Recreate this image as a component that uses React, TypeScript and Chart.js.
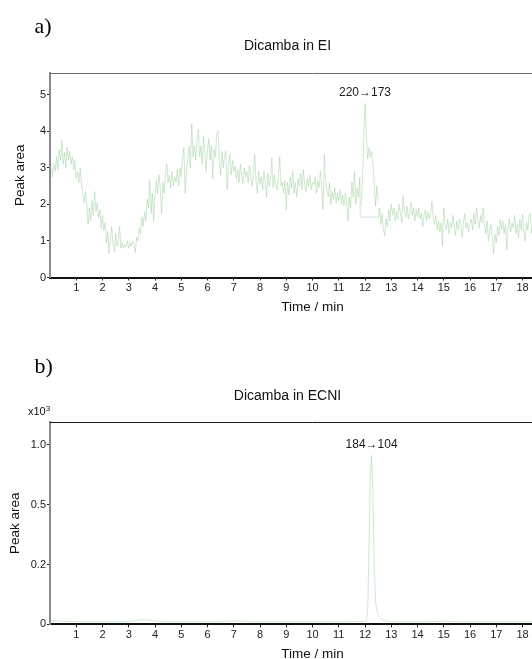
import React, { useEffect, useRef } from "react";
import { Chart, registerables } from "chart.js";

Chart.register(...registerables);

const FONT = "'Liberation Sans', Arial, Helvetica, sans-serif";
const TRACE_COLOR = "rgba(140, 200, 140, 0.42)";

// ---------- shared axis ----------
const X_TITLE = "Time / min";
const Y_TITLE = "Peak area";
const X_MIN = 0;
const X_MAX = 20;
const X_TICKS = [1, 2, 3, 4, 5, 6, 7, 8, 9, 10, 11, 12, 13, 14, 15, 16, 17, 18, 19];

// ---------- panel a : Dicamba in EI ----------
const EI_PANEL = "a)";
const EI_TITLE = "Dicamba in EI";
const EI_TRANSITION = "220\u2192173";
const EI_Y_MAX = 5.59;
const EI_Y_TICKS = [0, 1, 2, 3, 4, 5];
const EI_Y_LABELS = ["0", "1", "2", "3", "4", "5"];

const EI_START = 0.05;
const EI_STEP = 0.05;
const eiTraceBefore = [
  3.0, 2.75, 3.1, 2.9, 3.3, 2.95, 3.5, 3.2, 3.75, 3.1, 3.4, 3.0, 3.55, 3.2, 3.45, 3.1, 3.3, 2.95, 3.2, 2.7,
  2.9, 2.6, 3.0, 2.55, 2.3, 2.05, 2.35, 2.0, 1.45, 1.9, 1.55, 2.1, 1.7, 2.35, 1.8, 2.05, 1.65, 1.85, 1.35, 1.7,
  1.3, 1.5, 0.95, 1.25, 0.65, 1.1, 1.4, 0.9, 0.7, 1.2, 0.85, 1.0, 1.4, 0.8, 0.95, 0.8, 0.9, 0.85, 1.0, 0.8,
  0.95, 0.85, 1.0, 0.9, 0.68, 1.1, 1.0, 1.35, 1.2, 1.65, 1.4, 1.8, 1.55, 2.15, 1.9, 2.65, 1.75, 2.3, 1.55, 2.2,
  2.65, 2.3, 2.8, 2.45, 1.75, 2.6, 2.3, 2.85, 3.1, 2.6, 2.8, 2.45, 2.9, 2.5, 2.75, 2.6, 2.95, 2.5, 3.0, 2.75,
  3.2, 3.55, 2.3, 3.0, 3.2, 3.6, 3.0, 4.2, 3.3, 3.6, 3.2, 3.75, 4.05, 3.3, 3.6, 3.1, 3.85, 3.4, 2.9, 3.5,
  3.8, 3.2, 3.6, 2.7, 3.5, 3.3, 3.9, 4.0, 3.2, 2.8, 3.45, 3.0, 3.3, 3.45, 2.4, 3.1, 3.35, 2.8, 3.2, 2.9,
  3.05, 2.7, 2.95, 2.6, 3.1, 2.8, 2.55, 3.0, 2.75, 2.9, 2.6, 3.05, 2.7, 2.5, 2.85, 3.35, 2.65, 2.3, 2.9, 2.55,
  2.75, 2.4, 2.9, 2.6, 2.2, 2.85, 2.5, 2.7, 3.27, 2.45, 2.8, 2.55, 2.4, 2.75, 3.3, 2.5, 2.6, 2.3, 2.65, 1.85,
  2.6, 2.25, 2.75, 2.45, 2.9, 2.3, 2.6, 2.2, 2.7, 2.5, 2.85, 2.4, 2.95, 2.55, 2.35, 2.7, 2.5, 2.8, 2.4, 2.6,
  2.55, 2.75, 2.3, 2.65, 2.45, 2.9, 2.5, 1.85, 3.35, 2.7, 2.4, 2.2, 2.6, 2.0, 2.35, 2.15, 2.45, 2.05, 2.3, 2.1,
  2.4, 2.0, 2.25, 1.95, 2.3, 2.1, 1.55, 2.2, 1.9, 2.6, 2.2, 2.9, 2.0, 2.45, 2.2, 2.73,
];
const EI_GAP_FROM = 11.82;
const EI_GAP_TO = 12.52;
const EI_GAP_LEVEL = 1.65;
const EI_PEAK_START = 11.85;
const eiPeak = [1.95, 2.6, 3.7, 4.76, 3.9, 3.25, 3.55, 3.3, 3.45, 3.1, 2.55, 1.95, 2.5, 2.1];
const EI_AFTER_START = 12.55;
const eiTraceAfter = [
  1.9, 1.45, 1.75, 1.3, 1.15, 1.6, 1.4, 1.85, 1.55, 2.0,
  1.7, 1.9, 1.55, 1.8, 1.6, 2.0, 1.75, 1.5, 2.24, 1.85, 1.65, 1.95, 1.6, 1.8, 2.05, 1.7, 1.9, 1.55, 1.85, 1.65,
  1.9, 1.6, 1.75, 1.38, 1.7, 1.85, 1.55, 1.8, 1.6, 1.75, 2.08, 1.65, 1.45, 1.7, 1.3, 1.55, 1.25, 1.5, 0.88, 1.9,
  1.45, 1.3, 1.6, 1.2, 1.5, 1.35, 1.7, 1.4, 1.15, 1.55, 1.3, 1.6, 1.45, 1.1, 1.5, 1.75, 1.35, 1.5, 1.25, 1.45,
  1.6, 1.3, 1.75, 1.45, 1.9, 1.55, 1.35, 1.7, 1.5, 1.9, 1.4, 1.2, 1.55, 1.0, 1.3, 1.45, 1.1, 0.66, 1.2, 0.95,
  1.4, 1.15, 1.6, 1.3, 1.55, 1.2, 1.45, 0.75, 1.35, 1.6, 1.25, 1.5, 1.35, 1.7, 1.2, 1.45, 1.1, 1.6, 1.3, 1.72,
  1.25, 1.0, 1.5, 1.3, 1.65, 1.75, 1.2, 1.5, 1.35, 1.6,
];

// ---------- panel b : Dicamba in ECNI (x10^3) ----------
const ECNI_PANEL = "b)";
const ECNI_TITLE = "Dicamba in ECNI";
const ECNI_TRANSITION = "184\u2192104";
const ECNI_MULTIPLIER_BASE = "x10";
const ECNI_MULTIPLIER_EXP = "3";
const ECNI_Y_MAX = 0.845;
const ECNI_Y_TICKS = [0, 0.25, 0.5, 0.75];
const ECNI_Y_LABELS = ["0", "0.2", "0.5", "1.0"];

const ECNI_BASE_STEP = 0.25;
const ECNI_BEFORE_START = 0;
const ecniBaseBefore = [
  0.016, 0.015, 0.013, 0.012, 0.012, 0.011, 0.011, 0.011,
  0.011, 0.011, 0.011, 0.011,
  0.013, 0.016, 0.019, 0.018,
  0.014, 0.012, 0.011, 0.011,
  0.011, 0.011, 0.011, 0.011,
  0.011, 0.011, 0.012, 0.014,
  0.015, 0.014, 0.012, 0.011,
  0.011, 0.011, 0.011, 0.011,
  0.011, 0.011, 0.011, 0.011,
  0.011, 0.011, 0.011, 0.011,
  0.011, 0.011, 0.012, 0.012,
  0.013,
];
const ECNI_PEAK_START = 12.05;
const ECNI_PEAK_STEP = 0.05;
const ecniPeak = [
  0.015, 0.05, 0.3, 0.62, 0.705, 0.55, 0.25, 0.1, 0.06, 0.04,
  0.03, 0.025, 0.02, 0.018, 0.016, 0.015, 0.014, 0.013, 0.012,
];
const ECNI_AFTER_START = 13.0;
const ecniBaseAfter = [
  0.012, 0.011, 0.011, 0.011, 0.011, 0.011, 0.012, 0.012,
  0.013, 0.012, 0.012, 0.011, 0.011, 0.011, 0.011, 0.011,
  0.011, 0.011, 0.011, 0.011, 0.011, 0.011, 0.011, 0.011,
  0.011, 0.011, 0.011, 0.011, 0.011,
];

type Pt = { x: number; y: number };
const series = (start: number, step: number, values: number[]): Pt[] =>
  values.map((y, i) => ({ x: Math.round((start + i * step) * 1000) / 1000, y }));

const panelDecor = {
  id: "panelDecor",
  afterDraw(chart: any, _args: any, opts: any) {
    const { ctx, chartArea } = chart;
    ctx.save();
    ctx.strokeStyle = opts.frameColor;
    ctx.lineWidth = 1;
    ctx.beginPath();
    ctx.moveTo(chartArea.left, Math.round(chartArea.top) + 0.5);
    ctx.lineTo(chartArea.right, Math.round(chartArea.top) + 0.5);
    ctx.stroke();

    const ds = chart.data.datasets[opts.peakDataset];
    let best: Pt | null = null;
    for (const p of ds.data as Pt[]) if (!best || p.y > best.y) best = p;
    if (best) {
      const px = chart.scales.x.getPixelForValue(best.x);
      const py = chart.scales.y.getPixelForValue(best.y);
      ctx.font = `12px ${FONT}`;
      ctx.fillStyle = "#1a1a1a";
      ctx.textAlign = "center";
      ctx.textBaseline = "middle";
      ctx.fillText(opts.text, px, py - 11);
    }
    ctx.restore();
  },
};

type PanelCfg = {
  title: string;
  transition: string;
  datasets: Pt[][];
  peakDataset: number;
  yMax: number;
  yTicks: number[];
  yLabels: string[];
  height: number;
  titlePadTop: number;
  titlePadBottom: number;
  xAxisHeight: number;
  padBottom: number;
  yTitleOffset: number;
  frameColor: string;
};

function makeConfig(c: PanelCfg): any {
  return {
    type: "line",
    data: {
      datasets: c.datasets.map((d) => ({
        data: d,
        borderColor: TRACE_COLOR,
        borderWidth: 1,
        pointRadius: 0,
        tension: 0,
        fill: false,
      })),
    },
    plugins: [panelDecor],
    options: {
      responsive: false,
      animation: false,
      devicePixelRatio: 1,
      events: [],
      layout: { padding: { left: 0, right: 0, top: 0, bottom: c.padBottom } },
      plugins: {
        legend: { display: false },
        tooltip: { enabled: false },
        title: {
          display: true,
          text: c.title,
          color: "#111",
          font: { family: FONT, size: 14, weight: "normal" },
          padding: { top: c.titlePadTop, bottom: c.titlePadBottom },
        },
        panelDecor: { text: c.transition, peakDataset: c.peakDataset, frameColor: c.frameColor },
      },
      scales: {
        x: {
          type: "linear",
          min: X_MIN,
          max: X_MAX,
          afterBuildTicks: (s: any) => {
            s.ticks = X_TICKS.map((v) => ({ value: v }));
          },
          afterFit: (s: any) => {
            s.height = c.xAxisHeight;
          },
          ticks: {
            color: "#222",
            font: { family: FONT, size: 11 },
            padding: 1,
            maxRotation: 0,
            autoSkip: false,
            callback: (v: any) => String(v),
          },
          grid: { display: true, drawOnChartArea: false, drawTicks: true, tickLength: 3, color: "#222" },
          border: { display: true, color: "#111", width: 2 },
          title: {
            display: true,
            text: X_TITLE,
            color: "#111",
            font: { family: FONT, size: 13.5 },
            padding: 0,
          },
        },
        y: {
          type: "linear",
          min: 0,
          max: c.yMax,
          afterBuildTicks: (s: any) => {
            s.ticks = c.yTicks.map((v) => ({ value: v }));
          },
          afterFit: (s: any) => {
            s.width = 50;
          },
          ticks: {
            color: "#222",
            font: { family: FONT, size: 11 },
            padding: 1,
            autoSkip: false,
            callback: (v: any) => {
              const i = c.yTicks.indexOf(Number(v));
              return i >= 0 ? c.yLabels[i] : "";
            },
          },
          grid: { display: true, drawOnChartArea: false, drawTicks: true, tickLength: 3, color: "#222" },
          border: { display: true, color: "#8a8a8a", width: 2 },
          title: {
            display: true,
            text: Y_TITLE,
            color: "#111",
            font: { family: FONT, size: 13.5 },
            padding: { top: c.yTitleOffset, bottom: 0 },
          },
        },
      },
    },
  };
}

function Panel({ cfg, top }: { cfg: PanelCfg; top: number }) {
  const ref = useRef<HTMLCanvasElement | null>(null);
  useEffect(() => {
    if (!ref.current) return;
    const chart = new Chart(ref.current, makeConfig(cfg));
    return () => chart.destroy();
  }, []);
  return (
    <canvas
      ref={ref}
      width={575}
      height={cfg.height}
      style={{ position: "absolute", left: 0, top, width: 575, height: cfg.height }}
    />
  );
}

const eiMain: Pt[] = [
  ...series(EI_START, EI_STEP, eiTraceBefore),
  { x: EI_GAP_FROM, y: EI_GAP_LEVEL },
  { x: EI_GAP_TO, y: EI_GAP_LEVEL },
  ...series(EI_AFTER_START, EI_STEP, eiTraceAfter),
];
const eiPeakSeries = series(EI_PEAK_START, EI_STEP, eiPeak);

const ecniSeries: Pt[] = [
  ...series(ECNI_BEFORE_START, ECNI_BASE_STEP, ecniBaseBefore),
  ...series(ECNI_PEAK_START, ECNI_PEAK_STEP, ecniPeak),
  ...series(ECNI_AFTER_START, ECNI_BASE_STEP, ecniBaseAfter),
];

const EI_CFG: PanelCfg = {
  title: EI_TITLE,
  transition: EI_TRANSITION,
  datasets: [eiMain, eiPeakSeries],
  peakDataset: 1,
  yMax: EI_Y_MAX,
  yTicks: EI_Y_TICKS,
  yLabels: EI_Y_LABELS,
  height: 320,
  titlePadTop: 37.6,
  titlePadBottom: 18.6,
  xAxisHeight: 37.6,
  padBottom: 4.9,
  yTitleOffset: 11.9,
  frameColor: "#6e6e6e",
};

const ECNI_CFG: PanelCfg = {
  title: ECNI_TITLE,
  transition: ECNI_TRANSITION,
  datasets: [ecniSeries],
  peakDataset: 0,
  yMax: ECNI_Y_MAX,
  yTicks: ECNI_Y_TICKS,
  yLabels: ECNI_Y_LABELS,
  height: 300,
  titlePadTop: 17.6,
  titlePadBottom: 17.6,
  xAxisHeight: 37.6,
  padBottom: 8,
  yTitleOffset: 6.9,
  frameColor: "#1a1a1a",
};

const panelLabel: React.CSSProperties = {
  position: "absolute",
  left: 34.5,
  fontFamily: "'Liberation Serif', 'Times New Roman', serif",
  fontSize: 22,
  lineHeight: "22px",
  color: "#000",
  margin: 0,
};

export default function App() {
  return (
    <div
      style={{
        position: "absolute",
        left: 0,
        top: 0,
        width: 532,
        height: 659,
        overflow: "hidden",
        background: "#fff",
      }}
    >
      <Panel cfg={EI_CFG} top={0} />
      <Panel cfg={ECNI_CFG} top={370} />
      <div style={{ ...panelLabel, top: 14.6 }}>{EI_PANEL}</div>
      <div style={{ ...panelLabel, top: 354.6 }}>{ECNI_PANEL}</div>
      <div
        style={{
          position: "absolute",
          left: 28,
          top: 405.7,
          fontFamily: FONT,
          fontSize: 11,
          lineHeight: "11px",
          color: "#111",
          whiteSpace: "nowrap",
        }}
      >
        {ECNI_MULTIPLIER_BASE}
        <span style={{ position: "relative", top: -4, fontSize: 8 }}>{ECNI_MULTIPLIER_EXP}</span>
      </div>
    </div>
  );
}
